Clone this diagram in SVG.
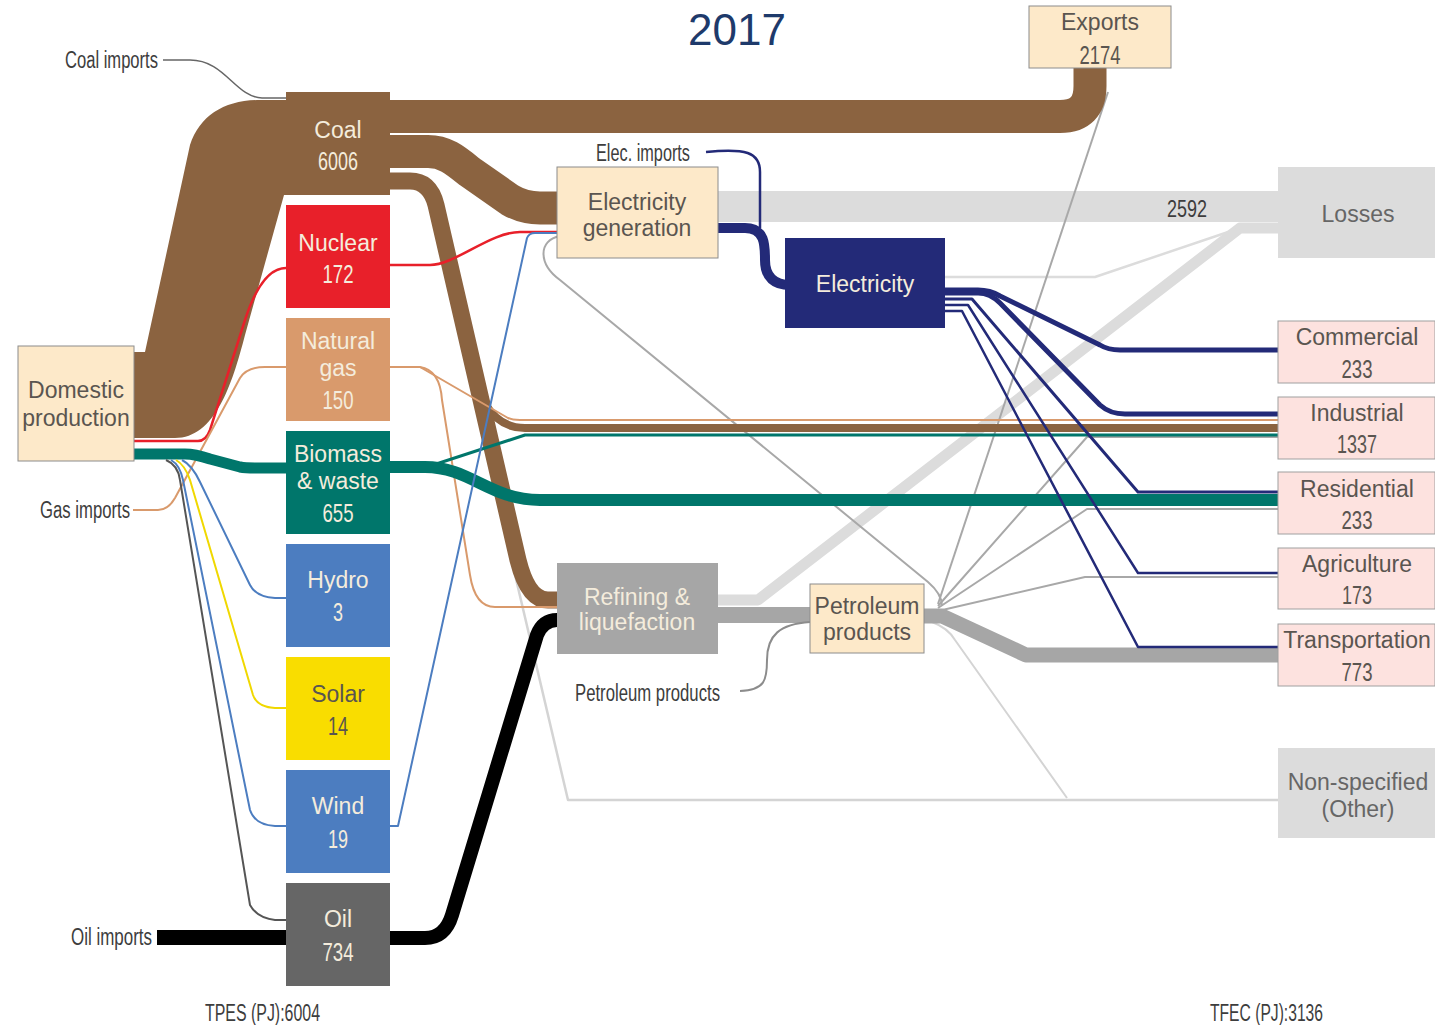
<svg xmlns="http://www.w3.org/2000/svg" width="1435" height="1025" viewBox="0 0 1435 1025">
<style>
.nm{font-family:"Liberation Sans","DejaVu Sans",sans-serif;font-size:23px;text-anchor:middle}
.nb{font-family:"Liberation Sans","DejaVu Sans",sans-serif;font-size:26px;text-anchor:middle}
.lb{font-family:"Liberation Sans","DejaVu Sans",sans-serif;font-size:23px;fill:#3d3d3d}
.lt{fill:#f4ecdc}
.dk{fill:#5a5550}
.cream{fill:#fde9c9;stroke:#8c8c8c;stroke-width:1}
.pink{fill:#fde2df;stroke:#a0a0a0;stroke-width:1}
.f{fill:none;stroke-linecap:butt;stroke-linejoin:round}
</style>
<rect width="1435" height="1025" fill="#ffffff"/>
<text x="737" y="45" font-family="Liberation Sans, DejaVu Sans, sans-serif" font-size="44" fill="#1e3a6b" text-anchor="middle">2017</text>

<g id="connectors">
  <path class="f" d="M718,206.5 L1278,206.5" stroke="#dcdcdc" stroke-width="31"/>
  <path class="f" d="M718,600 L758,600 L1240,228 L1278,228" stroke="#dcdcdc" stroke-width="11"/>
  <path class="f" d="M945,277 L1095,277 L1240,228" stroke="#dcdcdc" stroke-width="2.5"/>
  <path class="f" d="M508,545 L568,800 L1278,800" stroke="#d4d4d4" stroke-width="2.5"/>
  <path class="f" d="M932,622 Q948,628 955,640 L1067,798" stroke="#d4d4d4" stroke-width="2"/>
  <path class="f" d="M560,236 C538,240 538,264 560,280 L928,582 Q942,594 942,606" stroke="#a8a8a8" stroke-width="2"/>
  <path class="f" d="M938,604 L1108,92" stroke="#a8a8a8" stroke-width="2"/>
  <path class="f" d="M938,606 L1087,437 L1278,437" stroke="#a8a8a8" stroke-width="2"/>
  <path class="f" d="M938,608 L1087,509 L1278,509" stroke="#a8a8a8" stroke-width="2"/>
  <path class="f" d="M938,611 L1085,577 L1278,577" stroke="#a8a8a8" stroke-width="2"/>
  <path class="f" d="M924,616 L942,616 L1026,655 L1278,655" stroke="#a6a6a6" stroke-width="15"/>
  <path class="f" d="M718,615 L810,615" stroke="#a6a6a6" stroke-width="16"/>
  <path class="f" d="M740,691 C765,690 767,680 767,660 C767,635 780,624 810,622" stroke="#8c8c8c" stroke-width="2"/>
  <path d="M134,352 L145,352 L190,145 C200,115 225,100 260,100 L288,100 L288,195 L284,195 L245,335 C232,385 215,438 175,438 L134,438 Z" fill="#8b6340"/>
  <path class="f" d="M163,60 L190,60 C225,60 235,97 262,98 L286,98" stroke="#666" stroke-width="1.5"/>
  <path class="f" d="M390,116.5 L1060,116.5 Q1090,116.5 1090,86 L1090,68" stroke="#8b6340" stroke-width="33"/>
  <path class="f" d="M390,151.5 L428,151.5 C445,151.5 455,160 470,172 L510,200 C520,206 530,208 540,208 L557,208" stroke="#8b6340" stroke-width="33"/>
  <path class="f" d="M486,405 Q500,428 525,428 L1278,428" stroke="#8b6340" stroke-width="8"/>
  <path class="f" d="M390,181 L410,181 Q430,181 436,205 L518,560 Q528,600 548,600 L557,600" stroke="#8b6340" stroke-width="17"/>
  <path class="f" d="M134,441 L198,441 Q206,441 210,430 L245,320 Q262,268 286,268" stroke="#e8202a" stroke-width="2.5"/>
  <path class="f" d="M390,265 L430,265 C455,265 490,232 520,232 L557,232" stroke="#e8202a" stroke-width="2.5"/>
  <path class="f" d="M133,510 L158,510 Q168,510 175,498 L240,378 Q247,367 265,367 L286,367" stroke="#d99a6c" stroke-width="2"/>
  <path class="f" d="M390,367 L420,367 L508,418 Q512,420 520,420 L1278,420" stroke="#d99a6c" stroke-width="2"/>
  <path class="f" d="M420,367 Q440,370 442,400 L470,575 Q475,607 495,607 L557,607" stroke="#d99a6c" stroke-width="2"/>
  <path class="f" d="M134,454 L185,454 Q195,454 210,459 L240,467 Q245,468 255,468 L286,468" stroke="#00766b" stroke-width="11"/>
  <path class="f" d="M390,467 L425,467 C470,467 490,500 540,500 L1278,500" stroke="#00766b" stroke-width="12"/>
  <path class="f" d="M430,466 L525,435 L1278,435" stroke="#00766b" stroke-width="3"/>
  <path class="f" d="M182,460 Q192,465 200,482 L250,585 Q256,597 275,598 L286,598" stroke="#4c7dc0" stroke-width="2"/>
  <path class="f" d="M176,460 Q185,465 190,480 L253,695 Q257,707 275,708 L286,708" stroke="#f0d800" stroke-width="2"/>
  <path class="f" d="M171,460 Q180,465 183,480 L250,810 Q255,825 275,826 L286,826" stroke="#4c7dc0" stroke-width="2"/>
  <path class="f" d="M166,460 Q178,465 180,480 L250,905 Q257,918 275,920 L286,920" stroke="#555" stroke-width="2"/>
  <path class="f" d="M390,826 L398,826 L527,238 Q529,233 535,233 L557,233" stroke="#4c7dc0" stroke-width="2"/>
  <path class="f" d="M157,937.5 L286,937.5" stroke="#000" stroke-width="15"/>
  <path class="f" d="M390,938 L425,938 Q445,938 452,915 L537,635 Q543,620 557,620" stroke="#000" stroke-width="14"/>
  <path class="f" d="M718,228 L745,228 C765,228 765,245 765,260 C765,278 775,285 790,285" stroke="#232a78" stroke-width="10"/>
  <path class="f" d="M706,152 C745,148 760,152 760,172 L760,228" stroke="#232a78" stroke-width="2.5"/>
  <path class="f" d="M945,290 L978,290 Q990,290 1000,296 L1100,345 Q1108,350 1120,350 L1278,350" stroke="#232a78" stroke-width="5"/>
  <path class="f" d="M945,293 L978,293 Q990,293 1000,303 L1100,405 Q1110,414 1125,414 L1278,414" stroke="#232a78" stroke-width="5"/>
  <path class="f" d="M945,299 L972,299 L1138,492 L1278,492" stroke="#232a78" stroke-width="3"/>
  <path class="f" d="M945,305 L968,305 L1138,573 L1278,573" stroke="#232a78" stroke-width="2.5"/>
  <path class="f" d="M945,311 L962,311 L1138,647 L1278,647" stroke="#232a78" stroke-width="2.5"/>
</g>

<g id="domestic-production">
  <rect x="18" y="346" width="116" height="115" class="cream"/>
  <text class="nm dk" x="76" y="398">Domestic</text>
  <text class="nm dk" x="76" y="426">production</text>
</g>
<g id="coal">
  <rect x="286" y="92" width="104" height="103" fill="#8b6340"/>
  <text class="nm lt" x="338" y="138">Coal</text>
  <text class="nb lt" x="338" y="170" textLength="40" lengthAdjust="spacingAndGlyphs">6006</text>
</g>
<g id="nuclear">
  <rect x="286" y="205" width="104" height="103" fill="#e8202a"/>
  <text class="nm lt" x="338" y="251">Nuclear</text>
  <text class="nb lt" x="338" y="283" textLength="31" lengthAdjust="spacingAndGlyphs">172</text>
</g>
<g id="natural-gas">
  <rect x="286" y="318" width="104" height="103" fill="#d99a6c"/>
  <text class="nm lt" x="338" y="349">Natural</text>
  <text class="nm lt" x="338" y="376">gas</text>
  <text class="nb lt" x="338" y="409" textLength="31" lengthAdjust="spacingAndGlyphs">150</text>
</g>
<g id="biomass">
  <rect x="286" y="431" width="104" height="103" fill="#00766b"/>
  <text class="nm lt" x="338" y="462">Biomass</text>
  <text class="nm lt" x="338" y="489">&amp; waste</text>
  <text class="nb lt" x="338" y="522" textLength="31" lengthAdjust="spacingAndGlyphs">655</text>
</g>
<g id="hydro">
  <rect x="286" y="544" width="104" height="103" fill="#4c7dc0"/>
  <text class="nm lt" x="338" y="588">Hydro</text>
  <text class="nb lt" x="338" y="621" textLength="10" lengthAdjust="spacingAndGlyphs">3</text>
</g>
<g id="solar">
  <rect x="286" y="657" width="104" height="103" fill="#f9dd00"/>
  <text class="nm dk" x="338" y="702">Solar</text>
  <text class="nb dk" x="338" y="735" textLength="20" lengthAdjust="spacingAndGlyphs">14</text>
</g>
<g id="wind">
  <rect x="286" y="770" width="104" height="103" fill="#4c7dc0"/>
  <text class="nm lt" x="338" y="814">Wind</text>
  <text class="nb lt" x="338" y="848" textLength="20" lengthAdjust="spacingAndGlyphs">19</text>
</g>
<g id="oil">
  <rect x="286" y="883" width="104" height="103" fill="#666666"/>
  <text class="nm lt" x="338" y="927">Oil</text>
  <text class="nb lt" x="338" y="961" textLength="31" lengthAdjust="spacingAndGlyphs">734</text>
</g>
<g id="electricity-generation">
  <rect x="557" y="167" width="161" height="91" class="cream"/>
  <text class="nm dk" x="637" y="210" font-size="22">Electricity</text>
  <text class="nm dk" x="637" y="236" font-size="22">generation</text>
</g>
<g id="electricity">
  <rect x="785" y="238" width="160" height="90" fill="#232a78"/>
  <text class="nm lt" x="865" y="292">Electricity</text>
</g>
<g id="refining">
  <rect x="557" y="563" width="161" height="91" fill="#a6a6a6"/>
  <text class="nm lt" x="637" y="605">Refining &amp;</text>
  <text class="nm lt" x="637" y="630">liquefaction</text>
</g>
<g id="petroleum-products">
  <rect x="810" y="584" width="114" height="69" class="cream"/>
  <text class="nm dk" x="867" y="614">Petroleum</text>
  <text class="nm dk" x="867" y="640">products</text>
</g>
<g id="exports">
  <rect x="1029" y="6" width="142" height="62" class="cream"/>
  <text class="nm dk" x="1100" y="30">Exports</text>
  <text class="nb dk" x="1100" y="64" textLength="41" lengthAdjust="spacingAndGlyphs">2174</text>
</g>
<g id="losses">
  <rect x="1278" y="167" width="157" height="91" fill="#dcdcdc"/>
  <text class="nm" x="1358" y="222" fill="#666">Losses</text>
</g>
<g id="commercial">
  <rect x="1278" y="321" width="157" height="62" class="pink"/>
  <text class="nm dk" x="1357" y="345">Commercial</text>
  <text class="nb dk" x="1357" y="378" textLength="31" lengthAdjust="spacingAndGlyphs">233</text>
</g>
<g id="industrial">
  <rect x="1278" y="397" width="157" height="62" class="pink"/>
  <text class="nm dk" x="1357" y="421">Industrial</text>
  <text class="nb dk" x="1357" y="453" textLength="40" lengthAdjust="spacingAndGlyphs">1337</text>
</g>
<g id="residential">
  <rect x="1278" y="472" width="157" height="62" class="pink"/>
  <text class="nm dk" x="1357" y="497">Residential</text>
  <text class="nb dk" x="1357" y="529" textLength="31" lengthAdjust="spacingAndGlyphs">233</text>
</g>
<g id="agriculture">
  <rect x="1278" y="548" width="157" height="61" class="pink"/>
  <text class="nm dk" x="1357" y="572">Agriculture</text>
  <text class="nb dk" x="1357" y="604" textLength="30" lengthAdjust="spacingAndGlyphs">173</text>
</g>
<g id="transportation">
  <rect x="1278" y="624" width="157" height="62" class="pink"/>
  <text class="nm dk" x="1357" y="648">Transportation</text>
  <text class="nb dk" x="1357" y="681" textLength="31" lengthAdjust="spacingAndGlyphs">773</text>
</g>
<g id="non-specified">
  <rect x="1278" y="748" width="157" height="90" fill="#dcdcdc"/>
  <text class="nm" x="1358" y="790" fill="#666">Non-specified</text>
  <text class="nm" x="1358" y="817" fill="#666">(Other)</text>
</g>

<g id="labels">
  <text class="lb" x="65" y="68" textLength="93" lengthAdjust="spacingAndGlyphs">Coal imports</text>
  <text class="lb" x="40" y="518" textLength="90" lengthAdjust="spacingAndGlyphs">Gas imports</text>
  <text class="lb" x="71" y="945" textLength="81" lengthAdjust="spacingAndGlyphs">Oil imports</text>
  <text class="lb" x="596" y="161" textLength="94" lengthAdjust="spacingAndGlyphs">Elec. imports</text>
  <text class="lb" x="575" y="701" textLength="145" lengthAdjust="spacingAndGlyphs">Petroleum products</text>
  <text class="lb" x="1167" y="217" textLength="40" lengthAdjust="spacingAndGlyphs">2592</text>
  <text class="lb" x="205" y="1021" textLength="115" lengthAdjust="spacingAndGlyphs">TPES (PJ):6004</text>
  <text class="lb" x="1210" y="1021" textLength="113" lengthAdjust="spacingAndGlyphs">TFEC (PJ):3136</text>
</g>
</svg>
